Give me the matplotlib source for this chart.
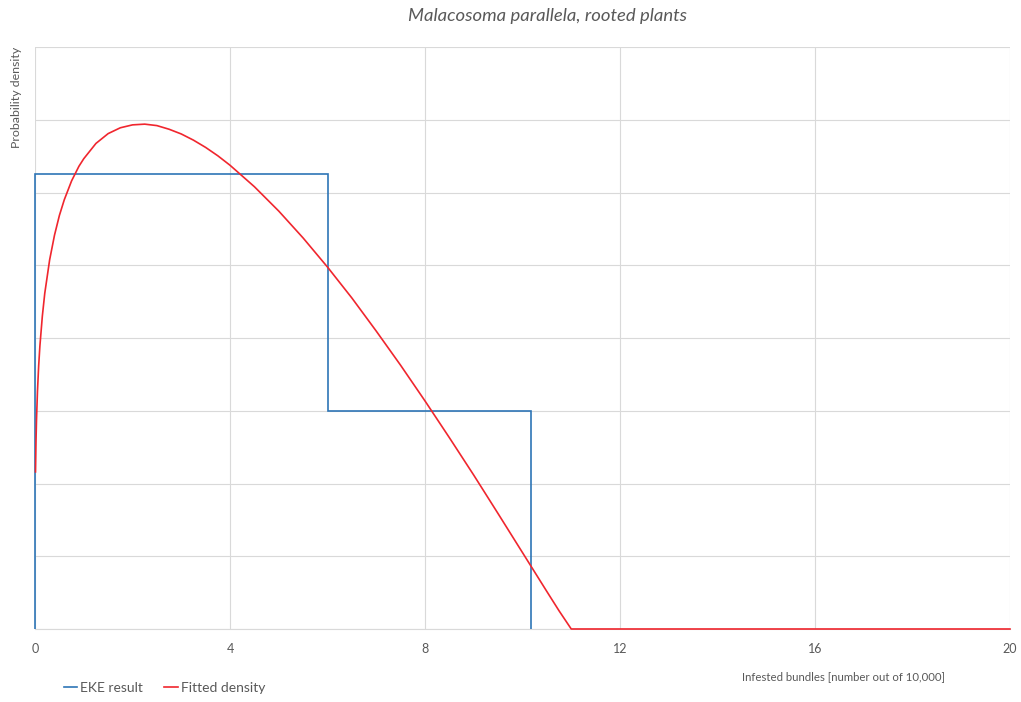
import matplotlib.pyplot as plt

# EKE result (histogram of elicited quantiles)
eke_edges = [0, 6, 10.17]
eke_density = [0.125, 0.06]

# Fitted density, values
fit_x = [0.01, 0.02, 0.03, 0.05, 0.075, 0.1, 0.15, 0.2, 0.3, 0.4, 0.5, 0.6,
         0.75, 0.9, 1, 1.25, 1.5, 1.75, 2, 2.25, 2.5, 2.75, 3, 3.25, 3.5,
         3.75, 4, 4.5, 5, 5.5, 6, 6.5, 7, 7.5, 8, 8.5, 9, 9.5, 10, 10.5, 10.75,
         11, 20]
fit_y = [0.0432, 0.0516, 0.0573, 0.0653, 0.0724, 0.0778, 0.0860, 0.0923, 0.1015,
         0.1083, 0.1137, 0.1180, 0.1232, 0.1272, 0.1293, 0.1335, 0.1362, 0.1378,
         0.1386, 0.1388, 0.1384, 0.1374, 0.1361, 0.1344, 0.1324, 0.1301, 0.1275,
         0.1216, 0.1149, 0.1075, 0.0995, 0.0910, 0.0819, 0.0725, 0.0627, 0.0526,
         0.0423, 0.0317, 0.0210, 0.0103, 0.0050, 0.0, 0.0]

x_ticks = [0, 4, 8, 12, 16, 20]

plt.rcParams['font.family'] = ['Lato', 'DejaVu Sans']
text_col = '#595959'
grid_col = '#d9d9d9'

fig = plt.figure(figsize=(10.21, 7.02), dpi=100)
ax = fig.add_axes([0.0343, 0.104, 0.9549, 0.829])

ax.stairs(eke_density, eke_edges, baseline=0, color='#2e75b6', linewidth=1.2,
          label='EKE result', zorder=3, clip_on=False)
ax.plot(fit_x, fit_y, color='#f0262e', linewidth=1.2, label='Fitted density',
        zorder=4, clip_on=False)

ax.set_xlim(0, 20)
ax.set_ylim(0, 0.16)
ax.set_xticks(x_ticks)
ax.set_yticks([i * 0.02 for i in range(9)])
ax.set_yticklabels([])
ax.tick_params(length=0, labelsize=9, labelcolor=text_col, pad=10)
ax.grid(True, color=grid_col, linewidth=0.8)
ax.set_axisbelow(True)
for s in ['top', 'right', 'left']:
    ax.spines[s].set_visible(False)
ax.spines['bottom'].set_color(grid_col)

fig.text(0.536, 0.977, 'Malacosoma parallela, rooted plants', ha='center', va='center',
         fontsize=13.3, style='italic', color=text_col)
fig.text(0.016, 0.933, 'Probability density', rotation=90, ha='center', va='top',
         fontsize=8.9, color=text_col)
fig.text(0.8257, 0.0356, 'Infested bundles [number out of 10,000]', ha='center',
         va='center', fontsize=8.2, color=text_col)

fig.legend(loc='center left', bbox_to_anchor=(0.05, 0.02), ncol=2, frameon=False,
           handlelength=1.0, handletextpad=0.2, columnspacing=1.5, fontsize=10,
           labelcolor=text_col)

fig.savefig('out.png', dpi=100)
